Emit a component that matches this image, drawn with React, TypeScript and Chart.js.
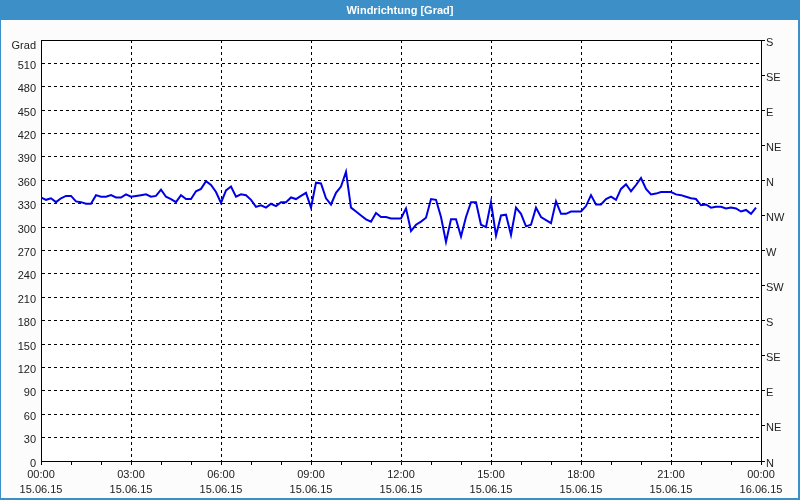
import React, { useEffect, useRef } from 'react';
import { Chart, registerables } from 'chart.js';

Chart.register(...registerables);

const chartTitle = 'Windrichtung [Grad]';
const yUnitLabel = 'Grad';
const sampleStepMinutes = 10;

// wind direction every 10 minutes, 00:00 .. 23:50
const windDirection = [
  338, 335, 337, 332, 337, 340, 340, 333, 332, 330, 330, 341,
  339, 339, 341, 338, 338, 342, 339, 340, 341, 342, 339, 340,
  348, 339, 336, 332, 341, 336, 336, 346, 349, 359, 354, 345,
  331, 347, 352, 339, 342, 341, 335, 326, 328, 325, 330, 327,
  332, 332, 338, 336, 340, 344, 325, 357, 356, 337, 329, 344,
  352, 371, 325, 320, 315, 310, 307, 318, 313, 313, 311, 311,
  311, 324, 295, 303, 307, 312, 336, 335, 313, 281, 310, 310,
  288, 313, 332, 332, 303, 300, 332, 289, 315, 316, 290, 325,
  317, 301, 303, 325, 313, 309, 305, 333, 317, 317, 320, 320,
  320, 327, 341, 329, 329, 336, 339, 335, 349, 355, 346, 354,
  363, 349, 342, 343, 345, 345, 345, 342, 341, 339, 337, 336,
  328, 329, 325, 326, 326, 324, 325, 324, 320, 322, 317, 325,
];

const timeTickLabels = ['00:00', '03:00', '06:00', '09:00', '12:00', '15:00', '18:00', '21:00', '00:00'];
const dateTickLabels = ['15.06.15', '15.06.15', '15.06.15', '15.06.15', '15.06.15', '15.06.15', '15.06.15', '15.06.15', '16.06.15'];
const compassLabels = ['N', 'NE', 'E', 'SE', 'S', 'SW', 'W', 'NW', 'N', 'NE', 'E', 'SE', 'S'];

const FONT = "'Liberation Sans', Arial, sans-serif";

export default function App() {
  const ref = useRef<HTMLCanvasElement>(null);

  useEffect(() => {
    const points = windDirection.map((v, i) => ({ x: i * sampleStepMinutes, y: v }));

    const deco = {
      id: 'deco',
      beforeDraw(chart: any) {
        const { ctx, width, height, chartArea } = chart;
        ctx.save();
        ctx.fillStyle = '#fbfcfb';
        ctx.fillRect(0, 0, width, height);
        ctx.fillStyle = '#ffffff';
        ctx.fillRect(chartArea.left, chartArea.top, chartArea.right - chartArea.left, chartArea.bottom - chartArea.top);
        // title bar
        ctx.fillStyle = '#3c8fc7';
        ctx.fillRect(0, 0, width, 20);
        ctx.fillStyle = '#ffffff';
        ctx.font = "bold 11px 'Liberation Sans Narrow', 'Liberation Sans', Arial, sans-serif";
        ctx.textAlign = 'center';
        ctx.textBaseline = 'middle';
        ctx.fillText(chartTitle, width / 2, 11);
        ctx.restore();
      },
      afterDraw(chart: any) {
        const { ctx, width, height, chartArea } = chart;
        ctx.save();
        ctx.strokeStyle = '#000000';
        ctx.lineWidth = 1;
        ctx.beginPath();
        ctx.moveTo(Math.round(chartArea.left) + 0.5, Math.round(chartArea.top) + 0.5);
        ctx.lineTo(Math.round(chartArea.right) + 0.5, Math.round(chartArea.top) + 0.5);
        ctx.stroke();
        ctx.fillStyle = '#222222';
        ctx.font = '11px ' + FONT;
        ctx.textAlign = 'right';
        ctx.textBaseline = 'middle';
        ctx.fillText(yUnitLabel, chartArea.left - 5, chartArea.top + 6);
        // frame
        ctx.fillStyle = '#3c8fc7';
        ctx.fillRect(0, 0, 1, height);
        ctx.fillRect(width - 2, 0, 2, height);
        ctx.fillRect(0, height - 2, width, 2);
        ctx.restore();
      },
    };

    const chart = new Chart(ref.current!, {
      type: 'line',
      data: {
        datasets: [
          {
            data: points,
            borderColor: '#0000e6',
            borderWidth: 2,
            pointRadius: 0,
            tension: 0,
            fill: false,
            yAxisID: 'y',
          },
        ],
      },
      options: {
        responsive: false,
        animation: false,
        layout: { padding: { top: 40, left: 0, right: 0, bottom: 0 } },
        plugins: {
          legend: { display: false },
          tooltip: { enabled: false },
          title: { display: false },
        },
        scales: {
          x: {
            type: 'linear',
            min: 0,
            max: 1440,
            afterFit: (s: any) => { s.height = 39; },
            ticks: {
              stepSize: 60,
              autoSkip: false,
              maxRotation: 0,
              minRotation: 0,
              padding: 2,
              color: '#222222',
              font: { family: FONT, size: 11, lineHeight: 1.4 },
              callback: (value: any) => {
                const v = Number(value);
                if (v % 180 !== 0) return '';
                const i = v / 180;
                return [timeTickLabels[i], dateTickLabels[i]];
              },
            },
            grid: {
              color: (c: any) => {
                const v = c.tick ? c.tick.value : -1;
                return v % 180 === 0 && v !== 0 && v !== 1440 ? '#000000' : 'rgba(0,0,0,0)';
              },
              tickColor: '#000000',
              tickLength: 4,
              lineWidth: 1,
            },
            border: { color: '#000000', width: 1, dash: [3, 3] },
          },
          y: {
            type: 'linear',
            position: 'left',
            min: 0,
            max: 540,
            afterFit: (s: any) => { s.width = 41; },
            ticks: {
              stepSize: 30,
              autoSkip: false,
              padding: 5,
              color: '#222222',
              font: { family: FONT, size: 11, lineHeight: '5px' },
              callback: (value: any) => (Number(value) === 540 ? '' : ['', String(value)]),
            },
            grid: {
              color: (c: any) => {
                const v = c.tick ? c.tick.value : -1;
                return v !== 0 && v !== 540 ? '#000000' : 'rgba(0,0,0,0)';
              },
              drawTicks: false,
              lineWidth: 1,
            },
            border: { color: '#000000', width: 1, dash: [3, 3] },
          },
          y2: {
            type: 'linear',
            position: 'right',
            min: 0,
            max: 540,
            afterFit: (s: any) => { s.width = 39; },
            ticks: {
              stepSize: 45,
              autoSkip: false,
              padding: 1,
              color: '#222222',
              font: { family: FONT, size: 11, lineHeight: '5px' },
              callback: (value: any) => ['', compassLabels[Math.round(Number(value) / 45)] ?? ''],
            },
            grid: {
              drawOnChartArea: false,
              color: '#000000',
              tickColor: '#000000',
              tickLength: 4,
              lineWidth: 1,
            },
            border: { color: '#000000', width: 1 },
          },
        },
      },
      plugins: [deco],
    } as any);

    return () => chart.destroy();
  }, []);

  return (
    <div style={{ position: 'absolute', left: 0, top: 0, width: 800, height: 500 }}>
      <canvas ref={ref} width={800} height={500} style={{ display: 'block' }} />
    </div>
  );
}
